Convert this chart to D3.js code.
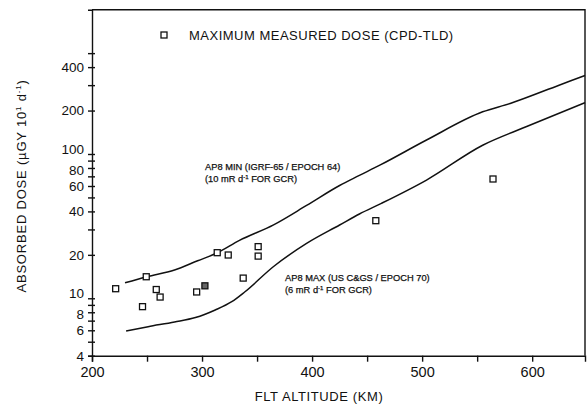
<!DOCTYPE html>
<html>
<head>
<meta charset="utf-8">
<script src="https://cdn.jsdelivr.net/npm/d3@7"></script>
<style>
body { margin: 0; background: #fff; }
svg { font-family: "Liberation Sans", Arial, Helvetica, sans-serif; }
.axis path, .axis line { stroke: #111; stroke-width: 1.4; }
.axis text { font-size: 14.5px; fill: #111; }
.curve { fill: none; stroke: #111; stroke-width: 1.5; }
.pt { stroke: #111; stroke-width: 1.3; }
.note { font-size: 9.3px; fill: #111; stroke: #111; stroke-width: 0.25; }
</style>
</head>
<body>
<svg width="588" height="405"></svg>
<script>
// AP8 MIN curve (altitude km, dose)
var minAlt  = [230, 250, 275, 296, 313, 334, 365, 395, 425, 443, 462, 504, 555, 580, 625, 648];
var minDose = [12.8, 14.1, 15.7, 18.2, 20.5, 25.2, 32.3, 44, 60.5, 71, 84, 125, 196, 224, 301, 350];

// AP8 MAX curve
var maxAlt  = [231, 251, 275, 294, 312, 327, 339, 365, 395, 425, 443, 463, 504, 555, 595, 648];
var maxDose = [5.94, 6.36, 6.85, 7.35, 8.3, 9.47, 11.1, 16.6, 24, 32.2, 38.4, 45.5, 66, 115, 155, 227];

// measured points
var ptAlt    = [221.5, 249.3, 245.9, 258.4, 261.9, 295.1, 302.6, 313.8, 323.8, 337.4, 351, 351, 457.9, 564.4];
var ptDose   = [11.65, 14.1, 8.75, 11.5, 10.2, 11.06, 12.2, 20.7, 19.95, 13.8, 22.8, 19.6, 34.5, 67.1];
var ptShaded = [0, 0, 0, 0, 0, 0, 1, 0, 0, 0, 0, 0, 0, 0];

var xTicks  = [200, 250, 300, 350, 400, 450, 500, 550, 600];
var xLabels = [200, 300, 400, 500, 600];
var yTicks  = [4, 5, 6, 7, 8, 9, 10, 20, 30, 40, 50, 60, 70, 80, 90, 100, 200, 300, 400, 500];
var yLabels = [4, 6, 8, 10, 20, 40, 60, 80, 100, 200, 400];

var svg = d3.select("svg");

var x = d3.scaleLinear().domain([200, 648]).range([92, 585]);
var y = d3.scaleLog().domain([4, 1000]).range([355.7, 9.7]);

// frame (top and right)
svg.append("path")
	.attr("d", "M92,9.7H585V355.7")
	.attr("fill", "none")
	.attr("stroke", "#111")
	.attr("stroke-width", 1.4);

var xAxis = svg.append("g")
	.attr("class", "axis")
	.attr("transform", "translate(0," + y(4) + ")")
	.call(d3.axisBottom(x)
		.tickValues(xTicks)
		.tickSizeOuter(0)
		.tickSize(6)
		.tickFormat(function(d) { return xLabels.indexOf(d) >= 0 ? d : ""; }));
xAxis.selectAll("text").attr("y", 11);

var yAxis = svg.append("g")
	.attr("class", "axis")
	.attr("transform", "translate(" + x(200) + ",0)")
	.call(d3.axisLeft(y)
		.tickValues(yTicks)
		.tickSizeOuter(0)
		.tickSize(4)
		.tickFormat(function(d) { return yLabels.indexOf(d) >= 0 ? d : ""; }));
yAxis.selectAll(".tick line").attr("x2", -4).attr("x1", 3);
// crowded labels: shrink a little and nudge apart
yAxis.selectAll("text")
	.attr("x", -8)
	.style("font-size", "13.5px")
	.attr("dy", function(d) {
		if (d === 100 || d === 10) return "-0.05em";
		if (d === 80 || d === 8) return "0.45em";
		return "0.32em";
	});

var line = d3.line()
	.curve(d3.curveMonotoneX)
	.x(function(d) { return x(d[0]); })
	.y(function(d) { return y(d[1]); });

svg.append("path")
	.attr("class", "curve")
	.attr("d", line(d3.zip(minAlt, minDose)));

svg.append("path")
	.attr("class", "curve")
	.attr("d", line(d3.zip(maxAlt, maxDose)));

var s = 6;
svg.selectAll(".pt")
	.data(d3.range(ptAlt.length))
	.enter()
	.append("rect")
	.attr("class", "pt")
	.attr("x", function(i) { return x(ptAlt[i]) - s / 2; })
	.attr("y", function(i) { return y(ptDose[i]) - s / 2; })
	.attr("width", s)
	.attr("height", s)
	.attr("fill", function(i) { return ptShaded[i] ? "#666" : "#fff"; });

// legend
svg.append("rect")
	.attr("class", "pt")
	.attr("x", 161).attr("y", 32)
	.attr("width", s).attr("height", s)
	.attr("fill", "#fff");
svg.append("text")
	.attr("x", 189).attr("y", 39.5)
	.attr("font-size", 13)
	.attr("letter-spacing", 0.5)
	.attr("fill", "#111")
	.text("MAXIMUM MEASURED DOSE (CPD-TLD)");

function note(tx, ty, first, rate) {
	var t = svg.append("text").attr("class", "note");
	t.append("tspan").attr("x", tx).attr("y", ty).text(first);
	var l2 = t.append("tspan").attr("x", tx).attr("y", ty + 11.5);
	l2.append("tspan").text("(" + rate + " mR d");
	l2.append("tspan").attr("dy", -3).attr("font-size", 6).text("-1");
	l2.append("tspan").attr("dy", 3).text(" FOR GCR)");
}
note(205, 170, "AP8 MIN (IGRF-65 / EPOCH 64)", "10");
note(285, 281, "AP8 MAX (US C&GS / EPOCH 70)", "6");

// axis titles
svg.append("text")
	.attr("x", 319).attr("y", 401)
	.attr("text-anchor", "middle")
	.attr("font-size", 13)
	.attr("letter-spacing", 0.6)
	.attr("fill", "#111")
	.text("FLT ALTITUDE (KM)");

var yt = svg.append("text")
	.attr("transform", "translate(26,186) rotate(-90)")
	.attr("text-anchor", "middle")
	.attr("font-size", 13)
	.attr("letter-spacing", 0.8)
	.attr("fill", "#111");
yt.append("tspan").text("ABSORBED DOSE (\u00b5GY 10");
yt.append("tspan").attr("dy", -5).attr("font-size", 8).text("1");
yt.append("tspan").attr("dy", 5).text(" d");
yt.append("tspan").attr("dy", -5).attr("font-size", 8).text("-1");
yt.append("tspan").attr("dy", 5).text(")");
</script>
</body>
</html>
